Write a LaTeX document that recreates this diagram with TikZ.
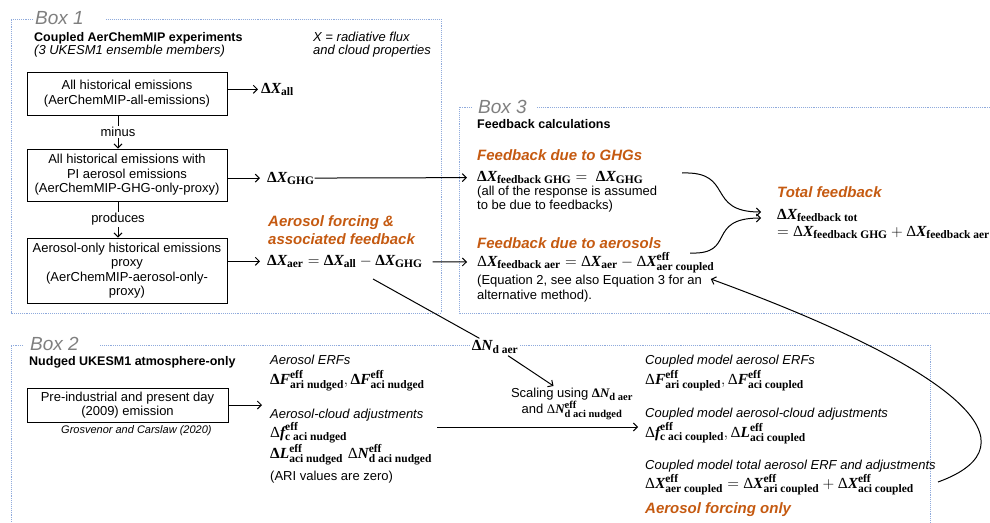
\RequirePackage{fix-cm}
\documentclass[tikz,border=0pt]{standalone}
\usepackage{amsmath}
\usepackage{fontspec}
\usetikzlibrary{arrows.meta}
\newfontfamily\arial{Liberation Sans}
\newfontfamily\eqsub{Liberation Serif}
\definecolor{boxline}{HTML}{8FAADC}
\definecolor{hiorange}{HTML}{C55A11}
\definecolor{titlegray}{HTML}{7F7F7F}
\DeclareMathSizes{15.4}{15.4}{11.5}{9}
\DeclareMathSizes{13}{13}{10.5}{8}
\newcommand{\bsub}[1]{\text{\eqsub\bfseries #1}}
\newcommand{\bv}[1]{\text{\eqsub\bfseries\itshape #1}}
\newcommand{\bD}{\text{\eqsub\bfseries Δ}}
\newcommand{\rD}{\text{\eqsub Δ}}
\newcommand{\DX}[1]{\bD\bv{X}_{\bsub{#1}}}
\newcommand{\DXe}[1]{\rD\bv{X}^{\bsub{eff}}_{\bsub{#1}}}
\tikzset{
  frame/.style={densely dotted, draw=boxline, line width=0.9pt},
  boxtitle/.style={anchor=base west, inner sep=0pt, text=titlegray, font=\arial\itshape\fontsize{19}{19}\selectfont},
  txt/.style={anchor=base west, inner sep=0pt, font=\arial\fontsize{13}{14.5}\selectfont},
  txtit/.style={txt, font=\arial\itshape\fontsize{13}{14.5}\selectfont},
  txtbf/.style={txt, font=\arial\bfseries\fontsize{12.5}{14.5}\selectfont},
  txtsm/.style={txt, font=\arial\itshape\fontsize{11}{13}\selectfont},
  hilite/.style={anchor=base west, inner sep=0pt, text=hiorange, font=\arial\bfseries\itshape\fontsize{15}{18}\selectfont},
  eqn/.style={anchor=base west, inner sep=0pt, font=\fontsize{15.4}{17}\selectfont},
  expbox/.style={draw, line width=0.8pt, align=center, inner sep=1pt, font=\arial\fontsize{13}{14.5}\selectfont},
  conlabel/.style={fill=white, inner sep=1.5pt, font=\arial\fontsize{13}{14.5}\selectfont},
  arr/.style={-{Straight Barb[length=4pt,width=8pt]}, line width=1pt, shorten >=3pt},
  arrbox/.style={-{Straight Barb[length=4pt,width=8pt]}, line width=1pt},
  link/.style={line width=1pt},
}
\begin{document}
\begin{tikzpicture}[x=1pt,y=-1pt]
\useasboundingbox (0,0) rectangle (990,522);
% dotted frames
\draw[frame] (33,19) -- (11,19) -- (11,313) -- (441,313) -- (441,19) -- (106,19);
\draw[frame] (472,107) -- (459,107) -- (459,313) -- (1000,313);
\draw[frame] (537,107) -- (1000,107);
\draw[frame] (23,345) -- (11,345) -- (11,530);
\draw[frame] (100,345) -- (930,345) -- (930,530);

% Box 1
\node[boxtitle] (box1) at (35,24) {Box 1};
\node[txtbf] (cplhead) at (34,41) {Coupled AerChemMIP experiments};
\node[txtit] (cplsub) at (34,54) {(3 UKESM1 ensemble members)};
\node[txtit] (xdef1) at (313,41) {X = radiative flux};
\node[txtit] (xdef2) at (313,54) {and cloud properties};
\node[expbox, minimum width=200pt, minimum height=43pt] (allem) at (127,93.5) {All historical emissions\\(AerChemMIP-all-emissions)};
\node[expbox, minimum width=200pt, minimum height=52pt] (ghgem) at (127,175) {All historical emissions with\\PI aerosol emissions\\(AerChemMIP-GHG-only-proxy)};
\node[expbox, minimum width=200pt, minimum height=65pt] (aerem) at (127,270.5) {Aerosol-only historical emissions\\proxy\\(AerChemMIP-aerosol-only-\\proxy)};
\node[eqn] (dXall) at (261,93) {$\DX{all}$};
\node[eqn] (dXghg) at (267,182) {$\DX{GHG}$};
\node[hilite] (aerfc1) at (268,226) {Aerosol forcing \&};
\node[hilite] (aerfc2) at (268,244) {associated feedback};
\node[eqn] (dXaer) at (267,265) {$\DX{aer} = \DX{all} - \DX{GHG}$};
\draw[arr] (allem.east |- dXall) -- (dXall);
\draw[arr, shorten >=7pt] (ghgem.east |- dXghg) -- (dXghg);
\draw[arr, shorten >=7pt] (aerem.east |- dXaer) -- (dXaer);
\draw[arrbox] ([xshift=-9pt]allem.south) -- ([xshift=-9pt]ghgem.north) node[midway, conlabel] (minus) {minus};
\draw[arrbox] ([xshift=-9pt]ghgem.south) -- ([xshift=-9pt]aerem.north) node[midway, conlabel] (produces) {produces};

% Box 3
\node[boxtitle] (box3) at (478,113) {Box 3};
\node[txtbf] (fbhead) at (477,128) {Feedback calculations};
\node[hilite] (fbghgt) at (477,160) {Feedback due to GHGs};
\node[eqn] (fbghg) at (477,181) {$\DX{feedback GHG} = \;\DX{GHG}$};
\node[txt] (fbghgn1) at (477,195) {(all of the response is assumed};
\node[txt] (fbghgn2) at (477,209) {to be due to feedbacks)};
\node[hilite] (fbaert) at (477,248) {Feedback due to aerosols};
\node[eqn] (fbaer) at (477,266) {$\rD\bv{X}_{\bsub{feedback aer}} = \rD\bv{X}_{\bsub{aer}} - \DXe{aer coupled}$};
\node[txt] (fbaern1) at (477,284) {(Equation 2, see also Equation 3 for an};
\node[txt] (fbaern2) at (477,299) {alternative method).};
\node[hilite] (tott) at (777,197) {Total feedback};
\node[eqn] (tot1) at (777,219) {$\DX{feedback tot}$};
\node[eqn] (tot2) at (777,236) {$= \rD\bv{X}_{\bsub{feedback GHG}} + \rD\bv{X}_{\bsub{feedback aer}}$};
\draw[arr, shorten >=10pt] (dXghg) -- (fbghg);
\draw[arr, shorten <=10pt, shorten >=10pt] (dXaer) -- (fbaer);
\coordinate (ghgout) at (682,173);
\coordinate (aerout) at (690,253);
\coordinate (totin1) at (764,212);
\coordinate (totin2) at (764,218);
\draw[arr] (ghgout) .. controls (735,171) and (705,212) .. (totin1);
\draw[arr] (aerout) .. controls (737,255) and (705,218) .. (totin2);

% Box 2
\node[boxtitle] (box2) at (30,350) {Box 2};
\node[txtbf] (nudhead) at (29,365) {Nudged UKESM1 atmosphere-only};
\node[expbox, minimum width=201pt, minimum height=34pt] (nudem) at (127.5,405) {Pre-industrial and present day\\(2009) emission};
\node[txtsm] (gcref) at (61,433) {Grosvenor and Carslaw (2020)};
\node[txtit] (nerf) at (270,364) {Aerosol ERFs};
\node[eqn] (nerfeq) at (270,384) {$\bD\bv{F}^{\bsub{eff}}_{\bsub{ari nudged}}, \bD\bv{F}^{\bsub{eff}}_{\bsub{aci nudged}}$};
\node[txtit] (nadj) at (270,418) {Aerosol-cloud adjustments};
\node[eqn] (nadjeq1) at (270,437) {$\rD\bv{f}^{\bsub{eff}}_{\bsub{c aci nudged}}$};
\node[eqn] (nadjeq2) at (270,458) {$\bD\bv{L}^{\bsub{eff}}_{\bsub{aci nudged}}\ \rD\bv{N}^{\bsub{eff}}_{\bsub{d aci nudged}}$};
\node[txt] (nari) at (270,480) {(ARI values are zero)};
\coordinate (nudin) at (265,405);
\draw[arr] (nudem.east) -- (nudin);

% scaling from box 1 to box 2
\coordinate (aersplit) at (373,279);
\node[eqn, anchor=center, fill=white, inner sep=2pt] (dNd) at (495,347) {$\bD\bv{N}_{\bsub{d aer}}$};
\node[txt, anchor=center, align=center] (scaling) at (572,404) {Scaling using $\bD\bv{N}_{\bsub{d aer}}$\\and $\rD\bv{N}^{\bsub{eff}}_{\bsub{d aci nudged}}$};
\draw[link] (aersplit) -- (dNd);
\draw[arr] (dNd) -- ([xshift=-16pt]scaling.north);
\coordinate (adjout) at (437,427);
\coordinate (adjin) at (641,427);
\draw[arr] (adjout) -- (adjin);

% coupled model results
\node[txtit] (cerf) at (645,364) {Coupled model aerosol ERFs};
\node[eqn] (cerfeq) at (645,384) {$\rD\bv{F}^{\bsub{eff}}_{\bsub{ari coupled}}, \rD\bv{F}^{\bsub{eff}}_{\bsub{aci coupled}}$};
\node[txtit] (cadj) at (645,417) {Coupled model aerosol-cloud adjustments};
\node[eqn] (cadjeq) at (645,437) {$\rD\bv{f}^{\bsub{eff}}_{\bsub{c aci coupled}}, \rD\bv{L}^{\bsub{eff}}_{\bsub{aci coupled}}$};
\node[txtit] (ctot) at (645,469) {Coupled model total aerosol ERF and adjustments};
\node[eqn] (ctoteq) at (645,488) {$\DXe{aer coupled} = \DXe{ari coupled} + \DXe{aci coupled}$};
\node[hilite] (aeronly) at (645,513) {Aerosol forcing only};
\coordinate (cplout) at (938,482);
\coordinate (eqnback) at (708,278);
\draw[arr] (cplout) .. controls (1040,445) and (960,370) .. (eqnback);
\end{tikzpicture}
\end{document}
